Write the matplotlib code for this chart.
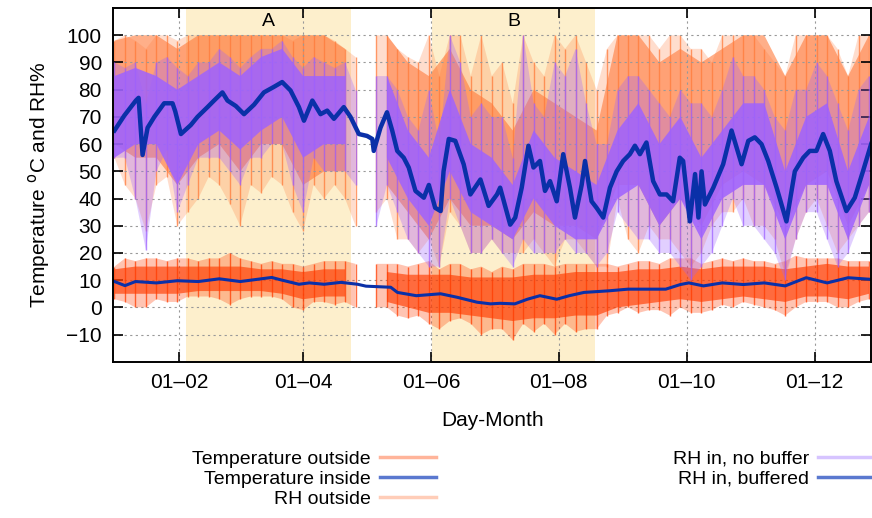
import numpy as np
import matplotlib
matplotlib.use("Agg")
import matplotlib.pyplot as plt
from matplotlib.lines import Line2D

plt.rcParams["font.family"] = ["Liberation Sans", "DejaVu Sans"]

nan = np.nan

# ── Data (day of year) ───────────────────────────────────────
# extremes of the spiky hourly traces, every 5 days
env_days = list(range(0, 361, 5))

rh_out_hi = [98, 100, 98, 95, 100, 100, 98, 100, 100, 100,
             100, 100, 100, 100, 100, 100, 100, 98, 100, 100,
             100, 98, 95, 92, nan, 100, 100, 95, 92, 90,
             100, 85, 100, 100, 85, 100, 85, 90, 75, 100,
             90, 85, 100, 95, 100, 90, 80, 95, 100, 100,
             100, 100, 95, 100, 100, 95, 95, 90, 100, 100,
             100, 100, 95, 90, 85, 100, 100, 100, 100, 95,
             85, 100, 100]
rh_out_lo = [55, 45, 40, 28, 45, 48, 30, 35, 40, 48,
             45, 38, 30, 45, 42, 48, 45, 35, 28, 45,
             40, 45, 40, 30, nan, 35, 40, 25, 25, 20,
             25, 15, 35, 30, 20, 20, 25, 20, 20, 20,
             25, 20, 15, 25, 25, 20, 15, 15, 40, 25,
             20, 30, 25, 25, 20, 15, 20, 30, 35, 35,
             40, 30, 30, 25, 12, 25, 35, 40, 30, 20,
             25, 30, 35]

nb_hi = [90, 88, 90, 75, 90, 92, 88, 85, 90, 90,
         95, 92, 88, 92, 95, 95, 98, 92, 88, 92,
         90, 88, 90, 80, nan, 85, 85, 80, 70, 65,
         80, 60, 100, 90, 70, 75, 70, 70, 55, 100,
         75, 70, 90, 85, 95, 75, 60, 60, 80, 85,
         85, 80, 75, 70, 80, 75, 75, 70, 80, 92,
         85, 85, 80, 70, 65, 80, 80, 90, 85, 75,
         65, 80, 85]
nb_lo = [55, 55, 40, 21, 50, 58, 35, 45, 55, 55,
         55, 50, 45, 55, 55, 60, 60, 45, 35, 55,
         50, 50, 50, 45, nan, 30, 45, 35, 25, 20,
         15, 15, 40, 30, 20, 20, 25, 20, 15, 25,
         20, 20, 20, 25, 20, 20, 15, 20, 35, 30,
         25, 25, 20, 20, 15, 10, 15, 20, 30, 40,
         30, 30, 25, 20, 10, 25, 35, 35, 25, 15,
         20, 30, 35]

t_out_hi = [15, 18, 17, 18, 18, 17, 18, 18, 17, 18,
            18, 20, 18, 17, 16, 17, 16, 16, 15, 16,
            17, 17, 17, 16, nan, 16, 16, 16, 15, 16,
            17, 14, 16, 16, 14, 15, 13, 15, 14, 16,
            16, 16, 15, 16, 16, 16, 16, 16, 15, 16,
            17, 17, 16, 18, 18, 18, 16, 17, 18, 17,
            18, 17, 17, 16, 17, 19, 18, 18, 18, 18,
            17, 17, 17]
t_out_lo = [3, 2, 0, 0, 3, 2, 2, 4, 4, 4,
            3, 1, 3, 4, 4, 4, 3, 0, -1, 2,
            2, 1, 2, 0, nan, 0, 0, -3, -4, -3,
            -6, -8, -5, -4, -6, -10, -8, -8, -12, -6,
            -9, -6, -10, -6, -9, -8, -8, -3, -2, 0,
            -2, -1, -1, -3, 0, -2, -2, -1, 1, 0,
            2, 1, 0, -1, -3, 0, 2, 2, 2, 0,
            0, 2, 3]

# dense core of the same traces, every 10 days
core_days = list(range(0, 361, 10))
rh_out_core_lo = [60, 55, 55, 45, 55, 60, 50, 60, 60, 45,
                  50, 50, nan, 45, 35, 25, 40, 30, 30, 25,
                  35, 30, 30, 25, 45, 45, 30, 40, 30, 45,
                  50, 45, 30, 45, 50, 30, 45]
rh_out_core_hi = [98, 100, 100, 95, 100, 100, 100, 100, 100, 100,
                  100, 95, nan, 100, 90, 85, 95, 80, 75, 65,
                  80, 75, 70, 65, 100, 100, 90, 95, 90, 95,
                  100, 100, 85, 100, 100, 85, 100]
nb_core_lo = [55, 60, 60, 45, 60, 65, 58, 65, 70, 55,
              60, 60, nan, 55, 40, 30, 50, 35, 30, 25,
              40, 30, 25, 25, 40, 45, 30, 40, 25, 40,
              45, 45, 25, 45, 45, 25, 45]
nb_core_hi = [85, 88, 85, 80, 85, 90, 85, 92, 95, 85,
              85, 85, nan, 85, 65, 55, 80, 60, 55, 45,
              65, 55, 50, 45, 65, 75, 60, 70, 55, 65,
              75, 75, 50, 70, 75, 50, 70]
t_out_core_lo = [5, 5, 5, 5, 6, 6, 6, 6, 5, 3,
                 4, 4, nan, 2, 0, -2, -2, -3, -4, -5,
                 -4, -4, -3, -3, 0, 1, 2, 3, 2, 3,
                 4, 3, 2, 4, 4, 3, 5]
t_out_core_hi = [14, 15, 15, 15, 15, 15, 15, 14, 14, 13,
                 14, 14, nan, 13, 12, 12, 12, 11, 11, 11,
                 12, 12, 13, 13, 13, 14, 14, 15, 14, 15,
                 15, 15, 14, 15, 16, 15, 15]

rh_buf_days = [0, 4.7, 10.2, 11.5, 13.4, 15.8, 19, 23.7, 27.7, 29, 31.7, 36.4, 39.6,
               44.4, 47.5, 51.5, 53.9, 57.9, 61.8, 66.6, 71.3, 76, 80, 84, 88, 90.4,
               94.4, 98.3, 101.5, 104.7, 109.4, 112.6, 116.6, 120.5, 123, 123.7, 126.9,
               130, 132.5, 134.9, 138, 140.4, 143.6, 147.6, 150, 153, 155.6, 157, 159.5,
               162.6, 166.6, 169.8, 174.6, 178.5, 182.5, 184, 188.8, 191.2, 194.3, 197.5,
               199.9, 203, 205.4, 207.8, 211, 214.1, 217.3, 219.7, 222.9, 224.5, 227.6,
               230, 233.2, 236.4, 239.6, 242.7, 245.9, 248.3, 250.7, 253.8, 257, 260.2,
               263.4, 266.5, 269.7, 271.3, 274.5, 277, 278.6, 280.1, 281.7, 285.7, 290.4,
               294.4, 299.2, 302.4, 305.5, 308.7, 311.9, 315.9, 320.6, 324.6, 328.6,
               331.7, 334.9, 338.1, 341.3, 344.4, 349.2, 353.2, 357.1, 361]
rh_buf = [65, 70.5, 76, 77, 56, 66, 70, 75, 75, 72, 63.7, 67, 70,
          73.6, 76, 79, 76, 74, 71, 74.5, 79, 81, 82.8, 79.7, 73.6, 68.6,
          76, 71, 72.3, 69.3, 73.6, 70, 63.7, 63, 61.9, 57.5, 66,
          71.7, 65, 57.5, 55, 51.4, 42.8, 40.3, 45, 36.6, 35.4, 50, 61.9,
          61.2, 52.6, 41.5, 47, 37.3, 41.5, 44, 30.4, 33, 44, 59.4,
          51.4, 53.8, 42.8, 46.4, 39, 56.3, 44, 33, 45, 53.8, 39,
          36.6, 33, 44, 50, 53.8, 56.3, 59.4, 56.3, 60.6, 46.4, 41.5,
          41.5, 39, 55, 53.8, 31.6, 49, 33, 50, 37.8, 44, 52.6,
          65, 52.6, 61.2, 62.5, 60, 53.8, 44, 31.6, 50, 55,
          57.5, 57.5, 63.7, 57.5, 46.4, 35.4, 40.3, 50, 60]

t_in_days = [0, 5, 10, 20, 30, 40, 50, 60, 70, 75, 80, 88, 93, 100, 108, 116, 120,
             131.8, 135, 144, 155.6, 163.6, 173, 179.4, 184, 191, 197, 203, 211, 217,
             224, 236, 245, 255, 263, 270, 274, 281, 290, 300, 310, 320, 330, 340,
             350, 361]
t_in = [9.5, 8, 9.5, 9, 9.8, 9.5, 10.5, 9.5, 10.5, 11, 10, 8.5, 9, 8.5, 9.2, 8.5, 7.8,
        7.4, 5.5, 4.3, 5, 3.7, 1.9, 1.3, 1.5, 1.3, 3, 4.3, 3, 4.3,
        5.5, 6.1, 6.7, 6.7, 6.7, 8.4, 9, 7.9, 9, 8.4, 9, 7.9, 10.9, 9,
        10.9, 10.3]

periods = [("A", 34, 113), ("B", 151.5, 229.3)]
tick_days = [31, 90, 151, 212, 273, 334]
tick_labels = ["01\u201302", "01\u201304", "01\u201306", "01\u201308", "01\u201310", "01\u201312"]

C_RH_OUT = "#ff7a3a"
C_T_OUT = "#ff3c00"
C_NB = "#9e62ff"
C_BLUE = "#0a30a8"


def noisy_band(ax, color, lo, hi, clo, chi, z, a_ext, a_core):
    ax.fill_between(env_days, lo, hi, color=color, alpha=a_ext, lw=0, zorder=z)
    ax.vlines(env_days, lo, hi, color=color, lw=1.0, alpha=0.75, zorder=z)
    ax.fill_between(core_days, clo, chi, color=color, alpha=a_core, lw=0, zorder=z)


fig = plt.figure(figsize=(8.72, 5.18), dpi=100)
ax = fig.add_axes([0.1296, 0.3015, 0.8694, 0.6830])

for name, d0, d1 in periods:
    ax.axvspan(d0, d1, color="#fdefcc", lw=0, zorder=0)
    ax.text((d0 + d1) / 2, 108, name, ha="center", va="top", fontsize=14)

noisy_band(ax, C_RH_OUT, rh_out_lo, rh_out_hi, rh_out_core_lo, rh_out_core_hi, 2, 0.25, 0.6)
noisy_band(ax, C_T_OUT, t_out_lo, t_out_hi, t_out_core_lo, t_out_core_hi, 3, 0.3, 0.65)
noisy_band(ax, C_NB, nb_lo, nb_hi, nb_core_lo, nb_core_hi, 4, 0.3, 0.85)

ax.plot(rh_buf_days, rh_buf, color=C_BLUE, lw=3.2, zorder=6)
ax.plot(t_in_days, t_in, color=C_BLUE, lw=2.2, zorder=6)

ax.set_xlim(-0.7, 361)
ax.set_ylim(-20, 110)
ax.set_yticks(range(-10, 101, 10))
ax.set_xticks(tick_days)
ax.set_xticklabels(tick_labels)
ax.tick_params(direction="in", length=7, width=1.2, top=True, right=True,
               labelsize=15, pad=8)
ax.grid(True, color="#999999", linestyle=(0, (2, 3)), lw=0.8)
ax.set_axisbelow(False)
for s in ax.spines.values():
    s.set_linewidth(1.4)
    s.set_zorder(10)
ax.set_ylabel("Temperature $^{\\rm o}$C and RH%", fontsize=15, labelpad=10)
ax.set_xlabel("Day-Month", fontsize=15, labelpad=14)

# legend in two blocks, text before the line
h_t_out = Line2D([], [], color="#ffb49a", lw=2.5)
h_t_in = Line2D([], [], color="#5a78cf", lw=2.5)
h_rh_out = Line2D([], [], color="#ffcdb8", lw=2.5)
h_nb = Line2D([], [], color="#d6c4ff", lw=2.5)
h_buf = Line2D([], [], color="#5a78cf", lw=2.5)

leg_kw = dict(markerfirst=False, frameon=False, fontsize=14, handlelength=2.9,
              handletextpad=0.45, labelspacing=0.12, borderpad=0, borderaxespad=0)
fig.legend([h_t_out, h_t_in, h_rh_out],
           ["Temperature outside", "Temperature inside", "RH outside"],
           loc="upper right", bbox_to_anchor=(436 / 872, 1 - 450 / 518), **leg_kw)
fig.legend([h_nb, h_buf], ["RH in, no buffer", "RH in, buffered"],
           loc="upper right", bbox_to_anchor=(874 / 872, 1 - 450 / 518), **leg_kw)

fig.savefig("out.png", dpi=100)
